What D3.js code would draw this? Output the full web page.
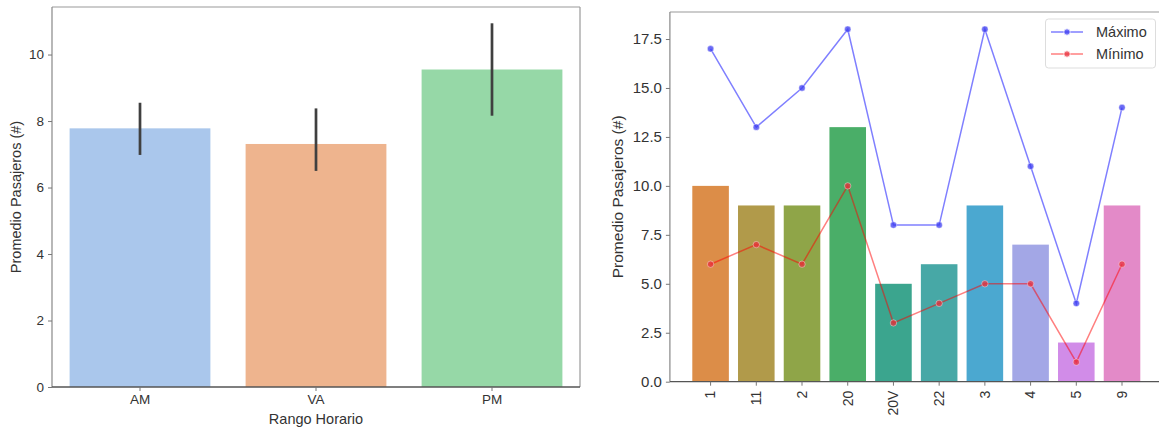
<!DOCTYPE html>
<html><head><meta charset="utf-8">
<script src="https://cdn.jsdelivr.net/npm/d3@7"></script>
<style>
body{margin:0;background:#fff;}
text{font-family:"Liberation Sans",Arial,sans-serif;fill:#333;}
</style></head>
<body><svg id="c" width="1159" height="428"></svg>
<script>
// Left chart data
const leftCats = ["AM","VA","PM"];
const leftMeans = [7.78, 7.31, 9.55];
const leftLow = [6.98, 6.50, 8.16];
const leftHigh = [8.55, 8.38, 10.94];
const leftColors = ["#aac7ec","#eeb48e","#96d8a7"];
const leftTicks = [0,2,4,6,8,10];

// Right chart data
const rightCats = ["1","11","2","20","20V","22","3","4","5","9"];
const rightBars = [10,9,9,13,5,6,9,7,2,9];
const rightMax = [17,13,15,18,8,8,18,11,4,14];
const rightMin = [6,7,6,10,3,4,5,5,1,6];
const rightColors = ["#dc8d48","#b19a4a","#8fa548","#4aae68","#3ba58e","#47a8a6","#4ba8d0","#a3a7e6","#d18ce8","#e38ac8"];
const rightTicks = [0,2.5,5,7.5,10,12.5,15,17.5];
const legendLabels = ["Máximo","Mínimo"];

const svg = d3.select("#c");

function frame(g, x0, x1, y0, y1){
  g.append("line").attr("x1",x0).attr("x2",x1).attr("y1",y0).attr("y2",y0).attr("stroke","#999").attr("stroke-width",1.2);
  g.append("line").attr("x1",x1).attr("x2",x1).attr("y1",y0).attr("y2",y1).attr("stroke","#999").attr("stroke-width",1.2);
  g.append("line").attr("x1",x0).attr("x2",x0).attr("y1",y0).attr("y2",y1).attr("stroke","#888").attr("stroke-width",1.2);
  g.append("line").attr("x1",x0).attr("x2",x1).attr("y1",y1).attr("y2",y1).attr("stroke","#555").attr("stroke-width",1.3);
}
function styleAxis(a, fs){
  a.select(".domain").remove();
  a.selectAll("line").attr("stroke","#777");
  a.selectAll("text").attr("font-size",fs).attr("fill","#333").attr("font-family","Liberation Sans, Arial, sans-serif");
}

// ---------- LEFT ----------
{
  const L=52, R=580, T=7, B=387;
  const x = d3.scaleBand().domain(leftCats).range([L,R]).paddingInner(0.2).paddingOuter(0.1);
  const y = d3.scaleLinear().domain([0,11.43]).range([B,T]);
  const g = svg.append("g");
  g.selectAll("rect").data(leftCats).join("rect")
    .attr("x",d=>x(d)).attr("width",x.bandwidth())
    .attr("y",(d,i)=>y(leftMeans[i])).attr("height",(d,i)=>B-y(leftMeans[i]))
    .attr("fill",(d,i)=>leftColors[i]);
  g.selectAll("line.err").data(leftCats).join("line").attr("class","err")
    .attr("x1",d=>x(d)+x.bandwidth()/2).attr("x2",d=>x(d)+x.bandwidth()/2)
    .attr("y1",(d,i)=>y(leftLow[i])).attr("y2",(d,i)=>y(leftHigh[i]))
    .attr("stroke","#404040").attr("stroke-width",2.7);
  frame(g,L,R,T,B);
  const ya = g.append("g").attr("transform",`translate(${L},0)`)
    .call(d3.axisLeft(y).tickValues(leftTicks).tickSize(4).tickPadding(4).tickFormat(d3.format("d")));
  const xa = g.append("g").attr("transform",`translate(0,${B})`)
    .call(d3.axisBottom(x).tickSize(4).tickPadding(3));
  styleAxis(ya,13.5); styleAxis(xa,13.5);
  g.append("text").attr("transform",`translate(20.5,${(T+B)/2}) rotate(-90)`).attr("text-anchor","middle").attr("font-size",14.5).text("Promedio Pasajeros (#)");
  g.append("text").attr("x",(L+R)/2).attr("y",424).attr("text-anchor","middle").attr("font-size",14.5).text("Rango Horario");
}

// ---------- RIGHT ----------
{
  const L=669.9, R=1162.7, T=12, B=381.7;
  const x = d3.scaleBand().domain(rightCats).range([L,R]).paddingInner(0.2).paddingOuter(0.49);
  const y = d3.scaleLinear().domain([0,18.88]).range([B,T]);
  const cx = d=>x(d)+x.bandwidth()/2;
  const g = svg.append("g");
  g.selectAll("rect").data(rightCats).join("rect")
    .attr("x",d=>x(d)).attr("width",x.bandwidth())
    .attr("y",(d,i)=>y(rightBars[i])).attr("height",(d,i)=>B-y(rightBars[i]))
    .attr("fill",(d,i)=>rightColors[i]);
  const series = [
    {vals:rightMax, line:"#0000ff", mark:"#3a3af0"},
    {vals:rightMin, line:"#ff0000", mark:"#e8303c"}
  ];
  series.forEach(s=>{
    const pts = rightCats.map((c,i)=>[cx(c), y(s.vals[i])]);
    g.append("path").attr("d",d3.line()(pts)).attr("fill","none").attr("stroke",s.line).attr("stroke-opacity",0.5).attr("stroke-width",1.5);
    g.selectAll(null).data(pts).join("circle").attr("cx",d=>d[0]).attr("cy",d=>d[1]).attr("r",3.2)
      .attr("fill",s.mark).attr("fill-opacity",0.75).attr("stroke","#fff").attr("stroke-opacity",0.5).attr("stroke-width",0.8);
  });
  frame(g,L,R,T,B);
  const ya = g.append("g").attr("transform",`translate(${L},0)`)
    .call(d3.axisLeft(y).tickValues(rightTicks).tickSize(4).tickPadding(4).tickFormat(d3.format(".1f")));
  const xa = g.append("g").attr("transform",`translate(0,${B})`)
    .call(d3.axisBottom(x).tickSize(4).tickPadding(3));
  styleAxis(ya,15); styleAxis(xa,14);
  xa.selectAll("text").attr("transform","rotate(-90)").attr("text-anchor","end").attr("dy","0.35em").attr("x",-9).attr("y",0);
  g.append("text").attr("transform",`translate(623,${(T+B)/2}) rotate(-90)`).attr("text-anchor","middle").attr("font-size",15.5).text("Promedio Pasajeros (#)");
  // legend
  const lg = g.append("g");
  lg.append("rect").attr("x",1045.5).attr("y",19).attr("width",110).attr("height",49).attr("rx",3)
    .attr("fill","#fff").attr("fill-opacity",0.8).attr("stroke","#ddd");
  series.forEach((s,i)=>{
    const yy = 32 + i*22;
    lg.append("line").attr("x1",1051).attr("x2",1083).attr("y1",yy).attr("y2",yy).attr("stroke",s.line).attr("stroke-opacity",0.5).attr("stroke-width",1.5);
    lg.append("circle").attr("cx",1067).attr("cy",yy).attr("r",3.2).attr("fill",s.mark).attr("fill-opacity",0.75).attr("stroke","#fff").attr("stroke-width",0.8);
    lg.append("text").attr("x",1096).attr("y",yy).attr("dy","0.36em").attr("font-size",14.5).text(legendLabels[i]);
  });
}
</script></body></html>
